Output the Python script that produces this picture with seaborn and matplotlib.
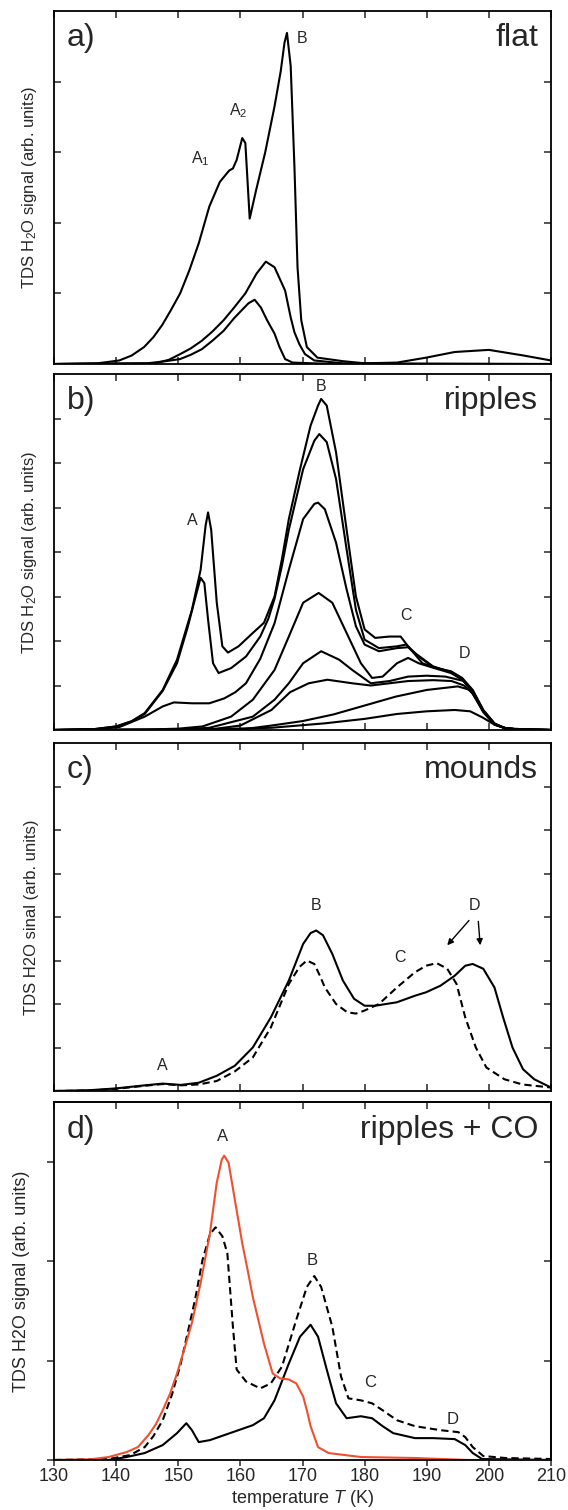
import numpy as np
import pandas as pd
import matplotlib.pyplot as plt
import seaborn as sns

# ---- data (temperature in K, signal in tick units) ----

# a) flat
a1_T = [130, 137, 140.5, 142.5, 144.5, 146, 147.4, 148.8, 150.3, 151.8, 153.3, 155, 156.7, 158.2,
        158.8, 159.4, 160.3, 160.8, 161.5, 162.5, 164, 165.5, 166.5, 167.1, 167.5, 168.1, 168.7,
        169.2, 169.8, 170.7, 172.4, 176.5, 180, 185.2, 189.9, 194.5, 200, 205.6, 210]
a1_y = [0, 0.01, 0.05, 0.12, 0.24, 0.38, 0.55, 0.76, 1.0, 1.33, 1.71, 2.23, 2.58, 2.74,
        2.77, 2.89, 3.2, 3.13, 2.06, 2.45, 3.0, 3.65, 4.15, 4.55, 4.69, 4.22, 2.8,
        1.37, 0.62, 0.24, 0.09, 0.04, 0.01, 0.02, 0.09, 0.17, 0.2, 0.12, 0.05]
a2_T = [130, 146.3, 148.5, 150.3, 152, 153.8, 155.5, 157.3, 159, 160.8, 162.6, 164.1, 165.5, 167.2,
        168.1, 168.7, 169.5, 170.4, 171.9, 176.5, 210]
a2_y = [0, 0.01, 0.06, 0.14, 0.22, 0.33, 0.46, 0.62, 0.8, 1.0, 1.28, 1.45, 1.37, 1.04,
        0.66, 0.45, 0.28, 0.14, 0.05, 0.01, 0]
a3_T = [130, 145, 148, 150.3, 152, 153.8, 155.5, 157.3, 159, 160.2, 161.3, 162.3, 163.3, 164.3,
        165.5, 166.3, 167.2, 168.4, 175, 210]
a3_y = [0, 0.01, 0.04, 0.07, 0.13, 0.21, 0.33, 0.47, 0.65, 0.76, 0.86, 0.91, 0.8, 0.62,
        0.43, 0.24, 0.07, 0.02, 0, 0]

# b) ripples
b1_T = [130, 136.5, 140, 142.5, 144.6, 147.5, 149.8, 152.2, 153.6, 154.4, 154.8, 155.3, 156.2, 157.1,
        158, 159.7, 162, 163.8, 165.5, 166.7, 167.8, 169.6, 171.3, 172.5, 173, 173.9, 175.4,
        177.1, 178.6, 180, 181.7, 184, 185.8, 187, 189.3, 191.6, 193.9, 195.7, 197.4, 199.1,
        200.9, 202.6, 205, 210]
b1_y = [0, 0.02, 0.08, 0.2, 0.38, 0.9, 1.58, 2.7, 3.6, 4.59, 4.89, 4.5, 2.86, 1.88,
        1.74, 1.88, 2.18, 2.41, 3.0, 3.85, 4.74, 5.86, 6.84, 7.29, 7.44, 7.29, 6.24,
        4.5, 3.0, 2.26, 2.07, 2.1, 2.1, 1.88, 1.5, 1.39, 1.32, 1.17, 0.9, 0.45,
        0.15, 0.04, 0.01, 0]
b2_T = [130, 136.5, 140, 142.5, 144.6, 147.5, 149.8, 151.5, 152.8, 153.6, 154.2, 154.8, 155.6, 156.5,
        158.5, 160.9, 163.2, 164.5, 165.5, 166.7, 167.8, 170.1, 171.9, 172.7, 173.9, 175.4, 177.1,
        178.6, 180, 182.3, 185.2, 186.7, 188.1, 191, 193.9, 195.7, 197.4, 199.1, 200.9, 202.6,
        205, 210]
b2_y = [0, 0.02, 0.08, 0.19, 0.36, 0.88, 1.5, 2.3, 3.0, 3.42, 3.3, 2.48, 1.5, 1.28,
        1.39, 1.65, 2.1, 2.5, 2.95, 3.7, 4.5, 5.86, 6.5, 6.65, 6.47, 5.64, 4.06,
        2.7, 2.03, 1.84, 1.88, 1.92, 1.73, 1.43, 1.3, 1.15, 0.88, 0.44, 0.14, 0.04,
        0.01, 0]
b3_T = [130, 137, 140.6, 144.6, 147.5, 149.3, 152.2, 155, 157.4, 159.2, 160.9, 163.2, 165.5, 167.8,
        170.1, 171.9, 172.5, 173.6, 175.4, 177.1, 178.6, 180, 182.3, 185.2, 187, 188.7, 191, 193.9,
        195.7, 197.4, 199.1, 200.9, 202.6, 205, 210]
b3_y = [0, 0.02, 0.07, 0.3, 0.53, 0.62, 0.6, 0.6, 0.71, 0.85, 1.05, 1.6, 2.4, 3.6,
        4.74, 5.08, 5.11, 4.96, 4.21, 3.16, 2.33, 1.92, 1.77, 1.84, 1.86, 1.65, 1.42, 1.3,
        1.14, 0.87, 0.43, 0.14, 0.04, 0.01, 0]
b4_T = [130, 145, 150, 153.9, 158.5, 162, 165.5, 167.8, 170.1, 172.6, 174.8, 177.1, 179.4, 181.2,
        182.9, 185.2, 187, 188.7, 191, 193.9, 195.7, 197.4, 199.1, 200.9, 202.6, 205, 210]
b4_y = [0, 0.01, 0.03, 0.08, 0.3, 0.68, 1.35, 2.1, 2.86, 3.08, 2.86, 2.18, 1.5, 1.17,
        1.2, 1.5, 1.62, 1.5, 1.4, 1.28, 1.13, 0.86, 0.42, 0.13, 0.04, 0.01, 0]
b5_T = [130, 150, 155, 162, 165.5, 167.8, 170.1, 173, 175.9, 178, 181, 184, 187, 190, 193, 196,
        197.4, 199.1, 200.9, 202.6, 205, 210]
b5_y = [0, 0.01, 0.05, 0.3, 0.68, 1.05, 1.5, 1.77, 1.58, 1.35, 1.05, 1.1, 1.2, 1.22, 1.2, 1.1,
        0.85, 0.42, 0.13, 0.04, 0.01, 0]
b6_T = [130, 155, 160, 165, 168, 171, 174, 178, 181, 184, 187, 191, 194, 196, 197.4, 199.1,
        200.9, 202.6, 205, 210]
b6_y = [0, 0.01, 0.1, 0.45, 0.85, 1.05, 1.13, 1.05, 1.0, 1.05, 1.1, 1.12, 1.1, 1.0, 0.82,
        0.4, 0.12, 0.04, 0.01, 0]
b7_T = [130, 160, 165, 170, 175, 180, 185, 190, 195, 197, 199, 201, 203, 210]
b7_y = [0, 0.01, 0.1, 0.2, 0.35, 0.55, 0.75, 0.9, 0.98, 0.9, 0.45, 0.12, 0.03, 0]
b8_T = [130, 150, 165, 173.6, 180, 185.2, 190, 194.5, 197, 199, 200.9, 203, 210]
b8_y = [0, 0, 0.05, 0.15, 0.25, 0.36, 0.42, 0.45, 0.42, 0.28, 0.12, 0.03, 0]

# c) mounds
c_solid_T = [130, 135.9, 140, 144.6, 147.5, 150.4, 153.3, 156.2, 159.1, 162, 164.9, 167.8, 170.1,
             171.3, 172.2, 173.3, 174.8, 176.5, 178.3, 180, 181.7, 185.2, 188.1, 189.9, 192.2,
             194.5, 196.2, 197.4, 199.1, 200.9, 202.3, 203.8, 205.5, 207.3, 210]
c_solid_y = [0, 0.02, 0.06, 0.13, 0.17, 0.14, 0.19, 0.35, 0.58, 1.0, 1.69, 2.54, 3.38,
             3.63, 3.69, 3.58, 3.15, 2.54, 2.12, 1.96, 1.96, 2.04, 2.19, 2.27, 2.42,
             2.65, 2.88, 2.92, 2.81, 2.38, 1.69, 1.0, 0.5, 0.27, 0.08]
c_dash_T = [130, 135.9, 140, 144.6, 147.5, 150.4, 153.3, 156.2, 159.1, 162, 164.9, 167.8, 169.5,
            170.7, 171.9, 172.8, 173.6, 175.4, 177.2, 178.6, 180, 182.3, 185.2, 188.1, 189.9,
            191.6, 193.3, 194.8, 196.2, 197.9, 199.6, 202.5, 205.4, 210]
c_dash_y = [0, 0.01, 0.05, 0.12, 0.16, 0.13, 0.15, 0.23, 0.45, 0.77, 1.46, 2.46, 2.85,
            3.0, 2.92, 2.65, 2.38, 2.0, 1.81, 1.78, 1.85, 2.0, 2.38, 2.73, 2.88,
            2.94, 2.81, 2.46, 1.69, 1.0, 0.54, 0.27, 0.15, 0.08]

# d) ripples + CO
d_red_T = [130, 135.9, 138.8, 141.7, 143.5, 145.2, 146.4, 147.5, 148.7, 149.8, 151, 152.2, 153.6,
           155.1, 156.2, 157, 157.4, 158.1, 159.1, 160.3, 161.2, 162, 163.8, 165.2, 166.4, 167.8,
           169, 170.1, 170.7, 171.3, 172.5, 174.2, 179.4, 188.1, 196.8, 210]
d_red_y = [0, 0.007, 0.03, 0.08, 0.13, 0.25, 0.36, 0.5, 0.67, 0.87, 1.12, 1.38, 1.78,
           2.28, 2.79, 3.02, 3.06, 2.99, 2.62, 2.18, 1.9, 1.64, 1.17, 0.87, 0.82, 0.81,
           0.77, 0.64, 0.5, 0.34, 0.13, 0.07, 0.03, 0.02, 0, 0]
d_dash_T = [130, 138.8, 142.3, 144.6, 146, 147.5, 149, 150.4, 152.7, 153.9, 155.1, 156, 157.1, 157.9,
            158.8, 159.4, 160.9, 163.2, 164.9, 166.7, 169, 170.7, 171.9, 173, 174.8, 176.2, 177.4,
            179.4, 181.2, 182.9, 185.2, 188.1, 192.2, 195.1, 196.2, 197.4, 199.1, 202.6, 210]
d_dash_y = [0, 0.01, 0.05, 0.13, 0.24, 0.4, 0.66, 0.97, 1.61, 2.01, 2.27, 2.34, 2.25, 2.08,
            1.34, 0.91, 0.79, 0.72, 0.77, 0.94, 1.41, 1.74, 1.85, 1.74, 1.34, 0.84, 0.62,
            0.6, 0.57, 0.5, 0.4, 0.34, 0.3, 0.28, 0.23, 0.13, 0.04, 0.02, 0.01]
d_solid_T = [130, 138.8, 141.7, 144.6, 147.5, 149.8, 151.3, 152.2, 153.3, 155.1, 157.4, 159.7, 162,
             163.8, 165.5, 167.8, 169.6, 171.3, 172.5, 173.9, 175.4, 177.1, 179.4, 181.2, 182.9,
             184.6, 188.1, 191, 194.5, 196.2, 197.4, 198.9, 210]
d_solid_y = [0, 0, 0.03, 0.07, 0.15, 0.27, 0.37, 0.3, 0.18, 0.2, 0.25, 0.3, 0.35,
             0.42, 0.6, 0.97, 1.24, 1.36, 1.24, 0.91, 0.57, 0.42, 0.44, 0.42, 0.34,
             0.27, 0.22, 0.22, 0.21, 0.15, 0.07, 0.01, 0]

temp_ticks = list(range(130, 211, 10))

# ---- style ----
sns.set_theme(style="ticks")
plt.rcParams['font.family'] = ['Liberation Sans', 'DejaVu Sans']
plt.rcParams['mathtext.fontset'] = 'custom'
plt.rcParams['mathtext.rm'] = 'Liberation Sans'
plt.rcParams['mathtext.it'] = 'Liberation Sans:italic'

RED = '#f0502f'
LW = 1.5
DASH = (0, (3.5, 2))

fig = plt.figure(figsize=(5.68, 15.10), dpi=100)
left, width = 54 / 568, 497 / 568
ax_a = fig.add_axes([left, 1 - 364 / 1510, width, 353 / 1510])
ax_b = fig.add_axes([left, 1 - 730 / 1510, width, 356 / 1510])
ax_c = fig.add_axes([left, 1 - 1091 / 1510, width, 348 / 1510])
ax_d = fig.add_axes([left, 1 - 1460 / 1510, width, 358 / 1510])


def frame(ax, ymax, yticks, ylabel, tag, title, lab_x, lab_size):
    ax.set_xlim(130, 210)
    ax.set_ylim(0, ymax)
    ax.set_xticks(temp_ticks)
    ax.set_yticks(yticks)
    ax.tick_params(which='both', direction='in', length=5, width=1.1,
                   top=True, right=True, labelbottom=False, labelleft=False)
    for s in ax.spines.values():
        s.set_linewidth(1.3)
        s.set_color('black')
    ax.set_xlabel('')
    ax.set_ylabel(ylabel, fontsize=lab_size)
    ax.yaxis.set_label_coords(lab_x, 0.5)
    ax.text(0.026, 0.965, tag, transform=ax.transAxes, fontsize=23, ha='left', va='top')
    ax.text(0.974, 0.965, title, transform=ax.transAxes, fontsize=23, ha='right', va='top')


def curve(ax, T, y, **kw):
    sns.lineplot(x=T, y=y, ax=ax, color=kw.pop('color', 'black'), linewidth=LW, **kw)


# a)
for T, y in [(a1_T, a1_y), (a2_T, a2_y), (a3_T, a3_y)]:
    curve(ax_a, T, y)
frame(ax_a, 5, [1, 2, 3, 4], 'TDS H$_2$O signal (arb. units)', 'a)', 'flat', -0.03, 12)
ax_a.text(153.5, 2.77, 'A$_1$', fontsize=11.5, ha='center', va='bottom')
ax_a.text(159.7, 3.45, 'A$_2$', fontsize=11.5, ha='center', va='bottom')
ax_a.text(170.0, 4.5, 'B', fontsize=11.5, ha='center', va='bottom')

# b)
for T, y in [(b1_T, b1_y), (b2_T, b2_y), (b3_T, b3_y), (b4_T, b4_y),
             (b5_T, b5_y), (b6_T, b6_y), (b7_T, b7_y), (b8_T, b8_y)]:
    curve(ax_b, T, y)
frame(ax_b, 8, range(1, 8), 'TDS H$_2$O signal (arb. units)', 'b)', 'ripples', -0.03, 12)
ax_b.text(152.2, 4.55, 'A', fontsize=11.5, ha='center', va='bottom')
ax_b.text(173.0, 7.55, 'B', fontsize=11.5, ha='center', va='bottom')
ax_b.text(186.7, 2.4, 'C', fontsize=11.5, ha='center', va='bottom')
ax_b.text(196.0, 1.55, 'D', fontsize=11.5, ha='center', va='bottom')

# c)
curve(ax_c, c_solid_T, c_solid_y)
curve(ax_c, c_dash_T, c_dash_y, linestyle=DASH)
frame(ax_c, 8, range(1, 8), 'TDS H2O sinal (arb. units)', 'c)', 'mounds', -0.03, 12)
ax_c.text(147.5, 0.42, 'A', fontsize=11.5, ha='center', va='bottom')
ax_c.text(172.2, 4.1, 'B', fontsize=11.5, ha='center', va='bottom')
ax_c.text(185.7, 2.9, 'C', fontsize=11.5, ha='center', va='bottom')
ax_c.text(197.7, 4.1, 'D', fontsize=11.5, ha='center', va='bottom')
arrow = dict(arrowstyle='-|>', color='black', lw=1.0, mutation_scale=9, shrinkA=0, shrinkB=0)
ax_c.annotate('', xy=(193.3, 3.35), xytext=(196.8, 3.92), arrowprops=arrow)
ax_c.annotate('', xy=(198.6, 3.35), xytext=(198.3, 3.9), arrowprops=arrow)

# d)
curve(ax_d, d_solid_T, d_solid_y)
curve(ax_d, d_dash_T, d_dash_y, linestyle=DASH)
curve(ax_d, d_red_T, d_red_y, color=RED)
frame(ax_d, 3.6, [0, 1, 2, 3], 'TDS H2O signal (arb. units)', 'd)', 'ripples + CO', -0.048, 13)
ax_d.tick_params(axis='x', which='both', direction='out', length=4, top=False,
                 bottom=True, labelbottom=True, labelsize=13, pad=1.5)
ax_d.tick_params(axis='y', which='both', direction='out', length=5, right=False)
ax_d.secondary_xaxis('top').set_xticks(temp_ticks, labels=[])
sec_y = ax_d.secondary_yaxis('right')
sec_y.set_yticks([1, 2, 3], labels=[])
for sec in ax_d.child_axes:
    sec.tick_params(direction='in', length=5, width=1.1)
ax_d.set_xlabel('temperature $T$ (K)', fontsize=13)
ax_d.xaxis.set_label_coords(0.5, -0.078)
ax_d.xaxis.label.set_va('top')
ax_d.text(157.1, 3.18, 'A', fontsize=12, ha='center', va='bottom')
ax_d.text(171.6, 1.93, 'B', fontsize=12, ha='center', va='bottom')
ax_d.text(180.9, 0.7, 'C', fontsize=12, ha='center', va='bottom')
ax_d.text(194.2, 0.33, 'D', fontsize=12, ha='center', va='bottom')

fig.savefig('out.png', dpi=100)
